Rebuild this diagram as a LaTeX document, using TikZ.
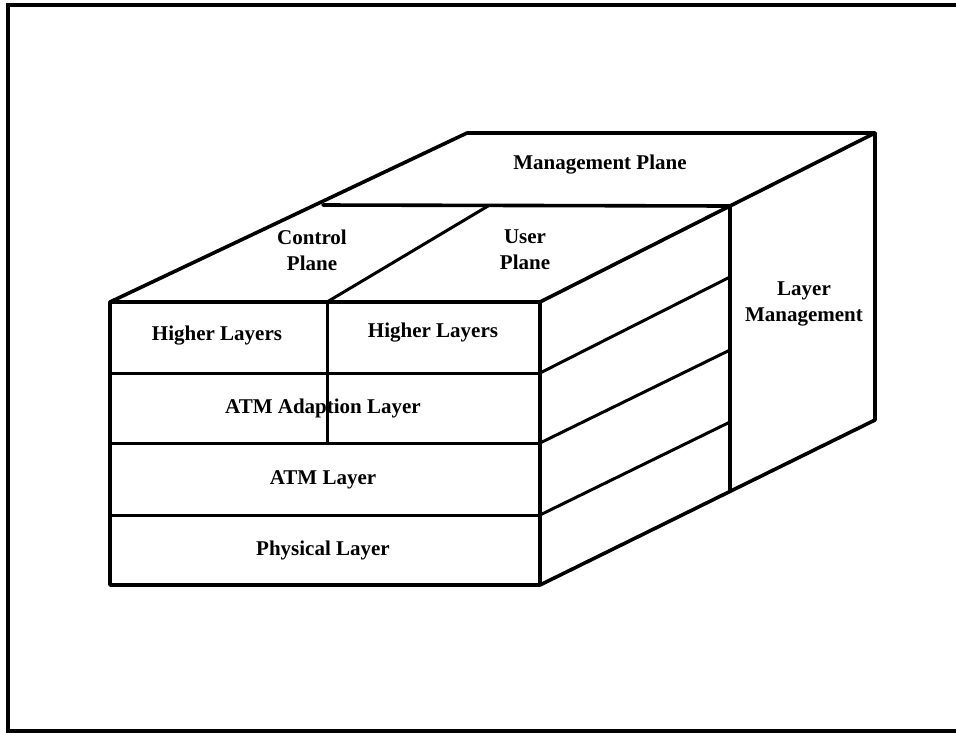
\documentclass[tikz,border=0pt]{standalone}
\usepackage{fontspec}
\setmainfont{Liberation Serif}
\begin{document}
\begin{tikzpicture}[x=1pt,y=-1pt,
  edge/.style={line width=3.6pt,line join=round,line cap=round},
  thin/.style={line width=3pt,line cap=round},
  lbl/.style={font=\fontsize{21}{26}\selectfont\bfseries,align=center,inner sep=0pt}]
\useasboundingbox (0,0) rectangle (956,732);
% outer frame
\draw[line width=3.6pt] (956,5) -- (8,5) -- (8,731) -- (956,731);
% corner coordinates
\coordinate (FTL) at (110,302);
\coordinate (FTR) at (540,302);
\coordinate (FBL) at (110,585);
\coordinate (FBR) at (540,585);
\coordinate (FD) at (327,302);
\coordinate (BTL) at (323,205);
\coordinate (BD) at (488,206);
\coordinate (BTR) at (730,206);
\coordinate (BBR) at (730,490);
\coordinate (MTL) at (467,133);
\coordinate (MTR) at (875,133);
\coordinate (MBR) at (875,420);
% front face
\draw[edge] (FTL) rectangle (FBR);
\draw[thin] (110,373) -- (540,373);
\draw[thin] (110,443) -- (540,443);
\draw[thin] (110,515) -- (540,515);
\draw[thin] (FD) -- (327,443);
% top face
\draw[edge] (FTL) -- (MTL) -- (MTR) -- (MBR) -- (FBR);
\draw[edge] (FTR) -- (BTR) -- (BBR);
\draw[edge] (BTL) -- (BTR) -- (MTR);
\draw[thin] (FD) -- (BD);
% right face layers
\draw[thin] (540,373) -- (730,277);
\draw[thin] (540,443) -- (730,350);
\draw[thin] (540,515) -- (730,422);
% labels
\node[lbl] (hl1) at (217,336) {Higher Layers};
\node[lbl] (hl2) at (433,333) {Higher Layers};
\node[lbl] (aal) at (323,408) {ATM Adaption Layer};
\node[lbl] (atm) at (323,480) {ATM Layer};
\node[lbl] (phy) at (323,550) {Physical Layer};
\node[lbl] (cp) at (312,250) {Control\\Plane};
\node[lbl] (up) at (525,250) {User\\Plane};
\node[lbl] (mp) at (600,165) {Management Plane};
\node[lbl] (lm) at (804,304) {Layer\\Management};
\end{tikzpicture}
\end{document}
